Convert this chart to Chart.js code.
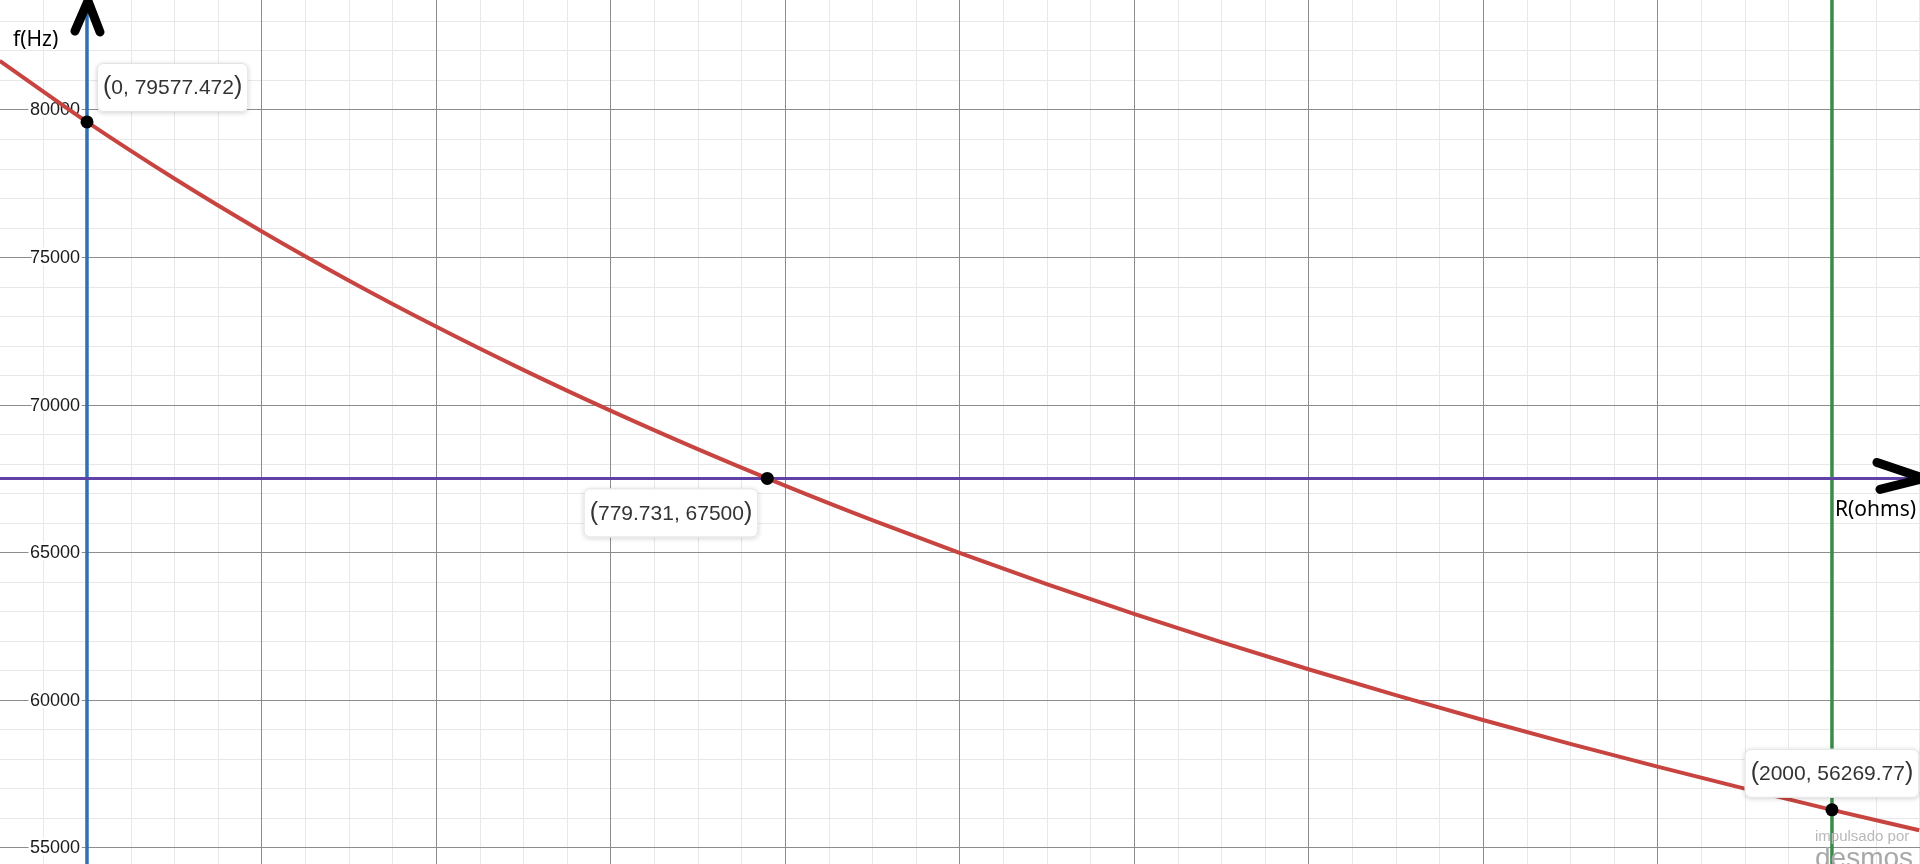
<!DOCTYPE html>
<html>
<head>
<meta charset="utf-8">
<title>f(Hz) vs R(ohms)</title>
<script src="https://cdn.jsdelivr.net/npm/chart.js@4/dist/chart.umd.min.js"></script>
<style>
  html, body { margin: 0; padding: 0; background: #fff; overflow: hidden; }
  #wrap { width: 1920px; height: 864px; }
</style>
</head>
<body>
<div id="wrap"><canvas id="graph" width="1920" height="864"></canvas></div>
<script>
// curve samples
const resistance = [-100, 0, 100, 200, 300, 400, 500, 600, 700, 800, 900, 1000,
  1100, 1200, 1300, 1400, 1500, 1600, 1700, 1800, 1900, 2000, 2100];
const frequency = [81645.8, 79577.5, 77659.7, 75874.2, 74206.4, 72644.0, 71176.4,
  69794.3, 68489.6, 67255.4, 66085.6, 64974.6, 63918.1, 62911.4, 61951.0, 61033.1,
  60154.9, 59313.5, 58506.5, 57731.5, 56986.6, 56269.8, 55579.1];

// labelled points
const markR = [0, 779.731, 2000];
const markF = [79577.472, 67500, 56269.77];
const markText = ["0, 79577.472", "779.731, 67500", "2000, 56269.77"];

// reference lines
const lineR = [0, 2000];
const lineF = [67500];

// visible window and y tick labels
const xRange = [-99.7, 2100.9];
const yRange = [54434, 83710];
const yLabels = [55000, 60000, 65000, 70000, 75000, 80000];

document.addEventListener("DOMContentLoaded", () => {
  const ctx = document.getElementById("graph").getContext("2d");

  const curve = resistance.map((r, i) => ({ x: r, y: frequency[i] }));
  const marks = markR.map((r, i) => ({ x: r, y: markF[i] }));
  const vLine = (r) => [{ x: r, y: yRange[0] }, { x: r, y: yRange[1] }];
  const hLine = (f) => [{ x: xRange[0], y: f }, { x: xRange[1], y: f }];

  // grid steps: minor / major
  const xStep = [50, 200];
  const yStep = [1000, 5000];
  const isMultiple = (v, step) => Math.abs(v / step - Math.round(v / step)) < 1e-6;

  // desmos style grid through the scales, then y labels by the R = 0 axis
  const gridAndLabels = {
    id: "gridAndLabels",
    beforeDatasetsDraw(chart) {
      const { ctx, scales, chartArea } = chart;
      const { left, right, top, bottom } = chartArea;
      const sx = scales.x;
      const sy = scales.y;
      ctx.save();
      ctx.lineWidth = 1;
      [false, true].forEach((major) => {
        ctx.strokeStyle = major ? "#8c8c8c" : "#e8e8e8";
        ctx.beginPath();
        for (let v = Math.ceil(sx.min / xStep[0]) * xStep[0]; v <= sx.max; v += xStep[0]) {
          if (isMultiple(v, xStep[1]) !== major) continue;
          const x = Math.round(sx.getPixelForValue(v)) + 0.5;
          ctx.moveTo(x, top);
          ctx.lineTo(x, bottom);
        }
        for (let v = Math.ceil(sy.min / yStep[0]) * yStep[0]; v <= sy.max; v += yStep[0]) {
          if (isMultiple(v, yStep[1]) !== major) continue;
          const y = Math.round(sy.getPixelForValue(v)) + 0.5;
          ctx.moveTo(left, y);
          ctx.lineTo(right, y);
        }
        ctx.stroke();
      });

      const x0 = sx.getPixelForValue(0);
      ctx.font = "18px 'Liberation Sans', Arial, sans-serif";
      ctx.textAlign = "right";
      ctx.textBaseline = "middle";
      ctx.lineJoin = "round";
      yLabels.forEach((v) => {
        const y = sy.getPixelForValue(v) + 1;
        ctx.lineWidth = 5;
        ctx.strokeStyle = "#fff";
        ctx.strokeText(String(v), x0 - 7, y);
        ctx.fillStyle = "#1a1a1a";
        ctx.fillText(String(v), x0 - 7, y);
      });
      ctx.restore();
    },
  };

  function roundRect(c, x, y, w, h, r) {
    c.beginPath();
    c.moveTo(x + r, y);
    c.arcTo(x + w, y, x + w, y + h, r);
    c.arcTo(x + w, y + h, x, y + h, r);
    c.arcTo(x, y + h, x, y, r);
    c.arcTo(x, y, x + w, y, r);
    c.closePath();
  }

  // point labels, arrows and text notes
  const notes = {
    id: "notes",
    afterDatasetsDraw(chart) {
      const { ctx, scales, chartArea } = chart;
      const place = [
        (px, py, w, h) => [px + 10, py - 10 - h],
        (px, py, w, h) => [px - 9 - w, py + 10],
        (px, py, w, h) => [px - w / 2, py - 12 - h],
      ];
      ctx.save();
      markText.forEach((t, i) => {
        const px = scales.x.getPixelForValue(markR[i]);
        const py = scales.y.getPixelForValue(markF[i]);
        ctx.font = "21px 'Liberation Sans', Arial, sans-serif";
        const inner = ctx.measureText(t).width;
        ctx.font = "25px 'Liberation Sans', Arial, sans-serif";
        const paren = ctx.measureText("(").width;
        const w = inner + paren * 2 + 12;
        const h = 49;
        const [bx, by] = place[i](px, py, w, h);

        ctx.save();
        ctx.shadowColor = "rgba(0,0,0,0.18)";
        ctx.shadowBlur = 5;
        ctx.shadowOffsetY = 1;
        roundRect(ctx, bx, by, w, h, 6);
        ctx.fillStyle = "#fff";
        ctx.fill();
        ctx.restore();
        roundRect(ctx, bx + 0.5, by + 0.5, w - 1, h - 1, 6);
        ctx.strokeStyle = "#e2e2e2";
        ctx.lineWidth = 1;
        ctx.stroke();

        const cy = by + h / 2;
        let tx = bx + 6;
        ctx.fillStyle = "#333";
        ctx.textBaseline = "middle";
        ctx.textAlign = "left";
        ctx.font = "25px 'Liberation Sans', Arial, sans-serif";
        ctx.fillText("(", tx, cy);
        tx += paren;
        ctx.font = "21px 'Liberation Sans', Arial, sans-serif";
        ctx.fillText(t, tx, cy + 1);
        tx += inner;
        ctx.font = "25px 'Liberation Sans', Arial, sans-serif";
        ctx.fillText(")", tx, cy);
      });

      // hand drawn arrows
      const ax = scales.x.getPixelForValue(0);
      const ay = scales.y.getPixelForValue(lineF[0]);
      ctx.strokeStyle = "#000";
      ctx.lineWidth = 9;
      ctx.lineCap = "round";
      ctx.lineJoin = "round";
      ctx.beginPath();
      ctx.moveTo(ax - 12, chartArea.top + 31);
      ctx.lineTo(ax + 1, chartArea.top + 1);
      ctx.lineTo(ax + 13, chartArea.top + 32);
      ctx.stroke();
      ctx.beginPath();
      ctx.moveTo(chartArea.right - 43, ay - 16);
      ctx.lineTo(chartArea.right + 4, ay);
      ctx.lineTo(chartArea.right - 40, ay + 11);
      ctx.stroke();

      ctx.fillStyle = "#000";
      ctx.textAlign = "left";
      ctx.textBaseline = "middle";
      ctx.font = "21px 'Noto Sans', 'Open Sans', sans-serif";
      ctx.fillText("f(Hz)", 13, 40);
      ctx.fillText("R(ohms)", scales.x.getPixelForValue(lineR[1]) + 3, ay + 32);

      // watermark
      ctx.fillStyle = "#b8b8b8";
      ctx.font = "15px 'Liberation Sans', Arial, sans-serif";
      ctx.fillText("impulsado por", chartArea.right - 105, chartArea.bottom - 27);
      ctx.fillStyle = "#a8a8a8";
      ctx.font = "28px 'Liberation Sans', Arial, sans-serif";
      ctx.textBaseline = "alphabetic";
      ctx.fillText("desmos", chartArea.right - 105, chartArea.bottom + 3);
      ctx.restore();
    },
  };

  new Chart(ctx, {
    type: "scatter",
    data: {
      datasets: [
        {
          data: marks,
          showLine: false,
          pointRadius: 6.5,
          pointBackgroundColor: "#000",
          pointBorderWidth: 0,
        },
        {
          data: curve,
          showLine: true,
          borderColor: "#c74440",
          borderWidth: 4,
          pointRadius: 0,
          cubicInterpolationMode: "monotone",
        },
        {
          data: hLine(lineF[0]),
          showLine: true,
          borderColor: "#6042a6",
          borderWidth: 3,
          pointRadius: 0,
        },
        {
          data: vLine(lineR[0]),
          showLine: true,
          borderColor: "#2d70b3",
          borderWidth: 3.5,
          pointRadius: 0,
        },
        {
          data: vLine(lineR[1]),
          showLine: true,
          borderColor: "#388c46",
          borderWidth: 3.5,
          pointRadius: 0,
        },
      ],
    },
    options: {
      responsive: false,
      animation: false,
      devicePixelRatio: 1,
      layout: { padding: 0, autoPadding: false },
      plugins: { legend: { display: false }, tooltip: { enabled: false } },
      scales: {
        x: {
          type: "linear",
          min: xRange[0],
          max: xRange[1],
          ticks: { display: false },
          border: { display: false },
          grid: { display: false },
          afterFit: (s) => { s.height = 0; },
        },
        y: {
          type: "linear",
          min: yRange[0],
          max: yRange[1],
          ticks: { display: false },
          border: { display: false },
          grid: { display: false },
          afterFit: (s) => { s.width = 0; },
        },
      },
    },
    plugins: [gridAndLabels, notes],
  });
});
</script>
</body>
</html>
